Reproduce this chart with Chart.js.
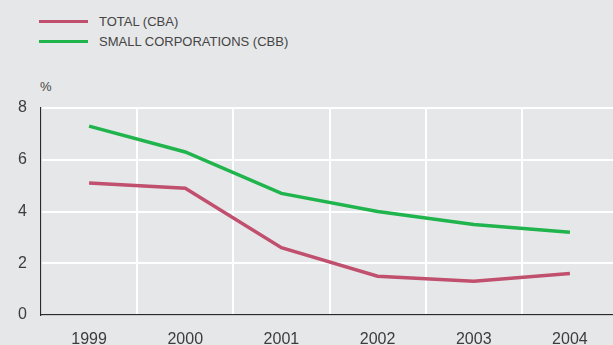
<!DOCTYPE html>
<html>
<head>
<meta charset="utf-8">
<script src="https://cdn.jsdelivr.net/npm/chart.js@4.4.0/dist/chart.umd.min.js"></script>
<style>
  html, body { margin: 0; padding: 0; background: #e6e7e9; overflow: hidden; }
  #wrap { position: relative; width: 613px; height: 345px; overflow: hidden; }
  #rateChart { position: absolute; left: 0; top: 0; }
  #legend { position: absolute; left: 39px; top: 12px; font-family: "Liberation Sans", Arial, sans-serif; font-size: 13px; color: #444; }
  #legend div { height: 20px; line-height: 20px; white-space: nowrap; }
  #legend span.swatch { display: inline-block; width: 49px; height: 3px; vertical-align: middle; margin-right: 11px; position: relative; top: -1px; }
  #unit { position: absolute; left: 40px; top: 79px; font-family: "Liberation Sans", Arial, sans-serif; font-size: 13px; color: #444; }
</style>
</head>
<body>
<div id="wrap">
  <div id="legend"></div>
  <div id="unit">%</div>
  <canvas id="rateChart" width="620" height="345"></canvas>
</div>
<script>
var years = ['1999', '2000', '2001', '2002', '2003', '2004'];
var seriesNames = ['TOTAL (CBA)', 'SMALL CORPORATIONS (CBB)'];
var totalCba = [5.1, 4.9, 2.6, 1.5, 1.3, 1.6];
var smallCbb = [7.3, 6.3, 4.7, 4.0, 3.5, 3.2];
var yTicks = [0, 2, 4, 6, 8];
var colors = ['rgb(192, 80, 110)', 'rgb(32, 180, 76)'];

var textColor = '#3c3c3c';
var fontFamily = '"Liberation Sans", Arial, sans-serif';

var datasets = [totalCba, smallCbb].map(function (vals, i) {
    return {
        label: seriesNames[i],
        data: vals,
        borderColor: colors[i],
        backgroundColor: colors[i],
        borderWidth: 3.5,
        pointRadius: 0,
        tension: 0,
        fill: false
    };
});

// html legend, one row per series
var legend = document.getElementById('legend');
datasets.forEach(function (ds) {
    var row = document.createElement('div');
    row.innerHTML = '<span class="swatch" style="background:' + ds.borderColor + '"></span>' + ds.label;
    legend.appendChild(row);
});

var rateChart = new Chart('rateChart', {
    type: 'line',
    data: {
        labels: years,
        datasets: datasets
    },
    options: {
        responsive: false,
        animation: false,
        layout: { padding: { top: 108, right: 2, left: 0, bottom: 0 } },
        plugins: {
            legend: { display: false },
            tooltip: { enabled: false }
        },
        scales: {
            x: {
                offset: true,
                afterFit: function (axis) { axis.height = 30; },
                grid: { color: '#ffffff', lineWidth: 2, offset: true, drawTicks: false },
                border: { color: '#2a2a2a', width: 1.2 },
                ticks: { color: textColor, padding: 15, font: { family: fontFamily, size: 16 } }
            },
            y: {
                min: 0,
                max: 8,
                afterFit: function (axis) { axis.width = 41; },
                afterBuildTicks: function (axis) {
                    axis.ticks = yTicks.map(function (v) { return { value: v }; });
                },
                grid: { color: '#ffffff', lineWidth: 2, drawTicks: false },
                border: { color: '#2a2a2a', width: 1.2 },
                ticks: { color: textColor, padding: 14, font: { family: fontFamily, size: 16 } }
            }
        }
    }
});
</script>
</body>
</html>
